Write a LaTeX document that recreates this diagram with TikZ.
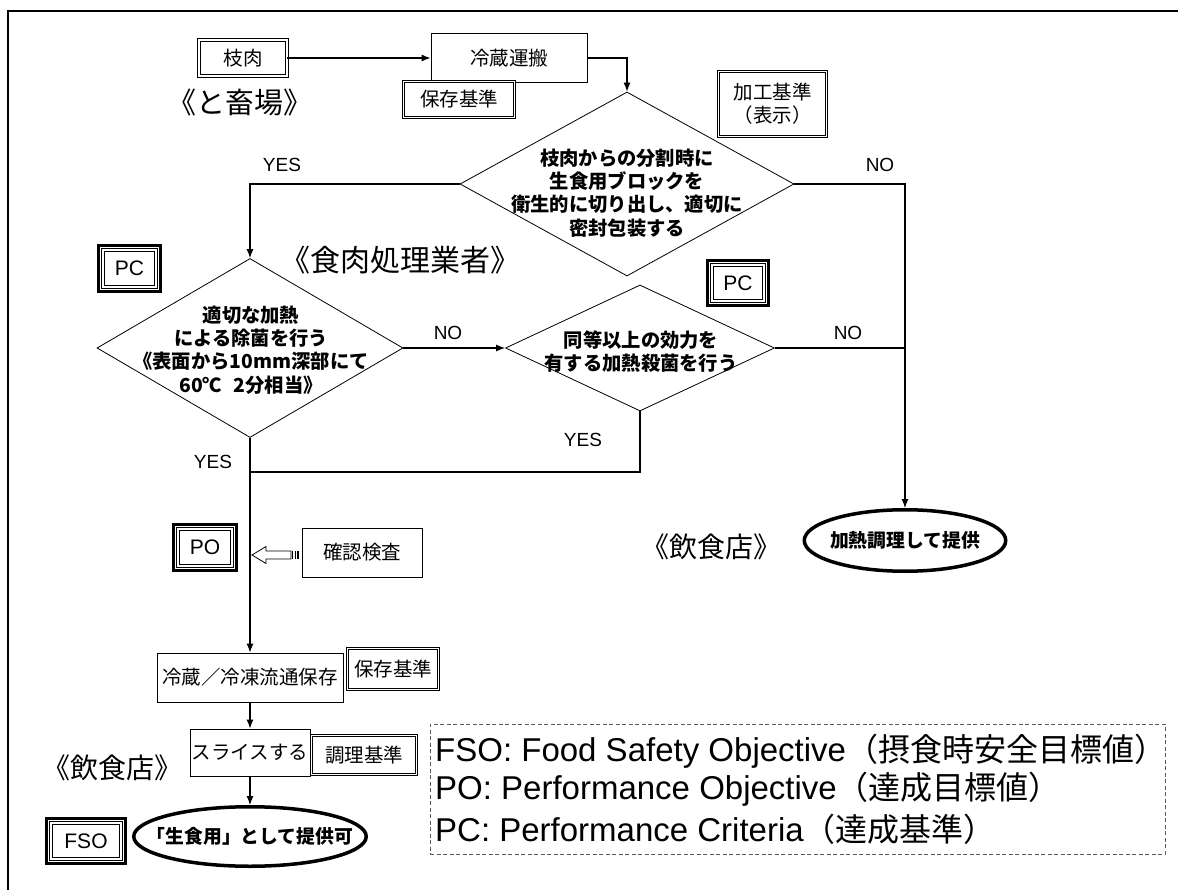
\documentclass[tikz,border=0pt]{standalone}
\usepackage{fontspec}
\setmainfont{Noto Sans CJK JP}
\newfontfamily\lat{Liberation Sans}
\usetikzlibrary{arrows.meta,shapes.geometric}
\newcommand\triframe[1]{%
  \draw[line width=3pt] ([shift={(1.5pt,1.5pt)}]#1.south west) rectangle ([shift={(-1.5pt,-1.5pt)}]#1.north east);
  \draw[line width=0.7pt] ([shift={(4.6pt,4.6pt)}]#1.south west) rectangle ([shift={(-4.6pt,-4.6pt)}]#1.north east);
  \draw[line width=0.7pt] ([shift={(7.4pt,7.4pt)}]#1.south west) rectangle ([shift={(-7.4pt,-7.4pt)}]#1.north east);}
\tikzset{
  conn/.style={line width=1.1pt},
  arr/.style={conn,-{Latex[length=9pt,width=7pt]}},
  jp/.style={font=\fontsize{19.5}{23}\selectfont},
  jpbold/.style={font=\fontsize{19.3}{23.2}\selectfont\bfseries, align=center},
  big/.style={font=\fontsize{#1}{#1}\selectfont, inner sep=0pt},
  latlbl/.style={font=\lat\fontsize{19}{22}\selectfont, inner sep=0pt},
  box/.style={draw, line width=0.8pt, inner sep=0pt, jp},
  dbox/.style={draw, line width=0.8pt, double, double distance=1.6pt, inner sep=0pt, jp},
  tri/.style={inner sep=0pt, outer sep=0pt, font=\lat\fontsize{21}{24}\selectfont},
  dia/.style={draw, diamond, line width=0.8pt, inner sep=0pt},
  oval/.style={draw, ellipse, line width=3.5pt, inner sep=0pt},
  ovaltext/.style={font=\fontsize{18.8}{22}\selectfont\bfseries, inner sep=0pt},
  legline/.style={anchor=west, inner sep=0pt},
}
\begin{document}
\begin{tikzpicture}[x=1pt,y=-1pt]
\useasboundingbox (0,0) rectangle (1178,890);
% frame
\draw[line width=1.5pt] (8,890) -- (8,11) -- (1178,11);

% top row
\node[dbox, minimum width=88pt, minimum height=36pt] (edaniku) at (243,58) {枝肉};
\node[big=29, anchor=east] (tochiku) at (313,102) {《と畜場》};
\node[box, minimum width=156pt, minimum height=49pt] (reizou) at (509,58) {冷蔵運搬};
\node[dbox, fill=white, minimum width=111pt, minimum height=36pt] (hozon1) at (459,99.5) {保存基準};
\node[dbox, minimum width=108pt, minimum height=65pt, align=left] (kakou) at (772.5,104) {加工基準\\（表示）};

% diamonds
\node[dia, minimum width=334pt, minimum height=184pt] (d1) at (627,184) {};
\node[jpbold] (t1) at (627,193) {枝肉からの分割時に\\生食用ブロックを\\衛生的に切り出し、適切に\\密封包装する};
\node[dia, minimum width=306pt, minimum height=179pt] (d3) at (250,348) {};
\node[jpbold] (t3) at (251,350) {適切な加熱\\による除菌を行う\\《表面から10mm深部にて\\60℃\hspace{0.6em}2分相当》};
\node[dia, minimum width=269pt, minimum height=126pt] (d2) at (640,348) {};
\node[jpbold] (t2) at (641,351.5) {同等以上の効力を\\有する加熱殺菌を行う};

\node[big=30, anchor=west] (shokuniku) at (280,260) {《食肉処理業者》};

% PC boxes
\node[tri, minimum width=65pt, minimum height=49pt] (pcL) at (129.5,268.5) {PC};
\triframe{pcL}
\node[tri, minimum width=64pt, minimum height=48pt] (pcR) at (738,283) {PC};
\triframe{pcR}

% right branch
\node[oval, minimum width=201.5pt, minimum height=61.5pt] (ell2) at (905,540.5) {};
\node[ovaltext] (ell2t) at (ell2) {加熱調理して提供};
\node[big=28] (inshokuR) at (711,547) {《飲食店》};

% lower chain
\node[tri, minimum width=66pt, minimum height=49pt] (po) at (205,547.5) {PO};
\triframe{po}
\node[box, minimum width=120pt, minimum height=49pt] (kakunin) at (362,552.5) {確認検査};
\node[box, minimum width=186pt, minimum height=49pt] (ryutsu) at (250,677.5) {冷蔵／冷凍流通保存};
\node[dbox, minimum width=91pt, minimum height=41pt] (hozon2) at (393,669) {保存基準};
\node[box, minimum width=120pt, minimum height=47pt] (slice) at (250,752.5) {スライスする};
\node[dbox, minimum width=105pt, minimum height=39pt] (chouri) at (364,755) {調理基準};
\node[big=28] (inshokuL) at (112,768) {《飲食店》};
\node[oval, minimum width=232.5pt, minimum height=59.5pt] (ell1) at (250,836.5) {};
\node[ovaltext] (ell1t) at (ell1) {「生食用」として提供可};
\node[tri, minimum width=82pt, minimum height=48pt] (fso) at (86,841) {FSO};
\triframe{fso}

% legend
\node[draw=black!65, dashed, dash pattern=on 4pt off 2.5pt, line width=0.8pt, minimum width=735pt, minimum height=130pt] (legend) at (797.5,789) {};
\node[legline] (lg1) at (435,751) {{\lat\fontsize{33}{36}\selectfont FSO: Food Safety Objective}{\fontsize{32}{36}\selectfont （摂食時安全目標値）}};
\node[legline] (lg2) at (435,789) {{\lat\fontsize{33}{36}\selectfont PO: Performance Objective}{\fontsize{32}{36}\selectfont （達成目標値）}};
\node[legline] (lg3) at (435,829) {{\lat\fontsize{33}{36}\selectfont PC: Performance Criteria}{\fontsize{32}{36}\selectfont （達成基準）}};

% junction coordinate
\coordinate (jn) at (250,472);

% connectors
\draw[arr] (edaniku.east) -- (reizou.west);
\draw[arr] (reizou.east) -| (d1.north);
\draw[arr] (d1.west) -| (d3.north);
\draw[arr] (d1.east) -| (ell2.north);
\draw[arr] (d3.east) -- (d2.west);
\draw[conn] (d2.east) -- (d2.east -| ell2.north);
\draw[conn] (d2.south) |- (jn);
\draw[arr] (d3.south) -- (ryutsu.north);
\draw[arr] (ryutsu.south) -- (slice.north);
\draw[arr] (slice.south) -- (ell1.north);

% hollow striped arrow from kakunin to the main line
\draw[line width=0.8pt, fill=white] (252,555) -- (266,546.5) -- (266,551) -- (291,551) -- (291,559) -- (266,559) -- (266,563.5) -- cycle;
\fill (292.3,551) rectangle (293.3,559);
\fill (294.5,551) rectangle (296,559);
\fill (297.2,551) rectangle (299.2,559);

% labels
\node[latlbl] (yes1) at (282,165) {YES};
\node[latlbl] (no1) at (880,165) {NO};
\node[latlbl] (no2) at (448,333) {NO};
\node[latlbl] (no3) at (848,333) {NO};
\node[latlbl] (yes2) at (583,440) {YES};
\node[latlbl] (yes3) at (213,462) {YES};
\end{tikzpicture}
\end{document}
